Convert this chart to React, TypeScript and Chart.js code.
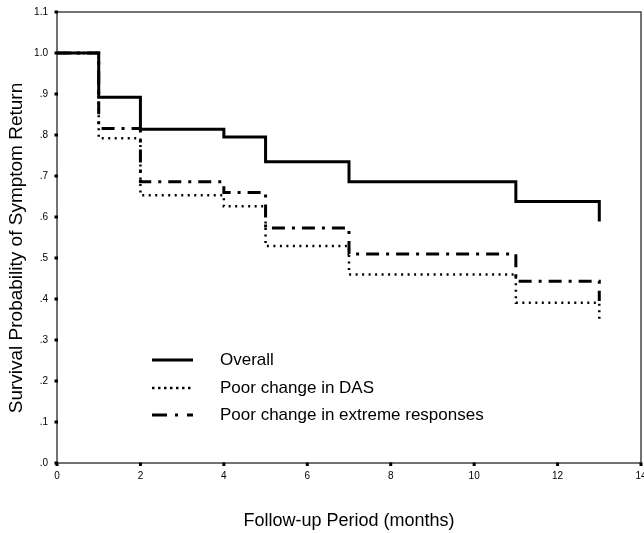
import React, { useEffect, useRef } from "react";
import { Chart, registerables } from "chart.js";

Chart.register(...registerables);

const months = [0, 1, 2, 4, 5, 7, 11, 13];
const overall = [1.0, 0.892, 0.814, 0.795, 0.735, 0.686, 0.638, 0.589];
const poorDAS = [1.0, 0.792, 0.653, 0.626, 0.529, 0.46, 0.391, 0.342];
const poorExtreme = [1.0, 0.816, 0.686, 0.66, 0.573, 0.51, 0.443, 0.395];

const seriesLabels = ["Overall", "Poor change in DAS", "Poor change in extreme responses"];
const yTickLabels = [".0", ".1", ".2", ".3", ".4", ".5", ".6", ".7", ".8", ".9", "1.0", "1.1"];
const xTickLabels = ["0", "2", "4", "6", "8", "10", "12", "14"];
const xTitle = "Follow-up Period (months)";
const yTitle = "Survival Probability of Symptom Return";

const FONT = "'Liberation Sans', Arial, Helvetica, sans-serif";

const styles = [
  { width: 3, dash: [] as number[], legendDash: [] as number[] },
  { width: 2.5, dash: [2, 4.5], legendDash: [2.5, 3.5] },
  { width: 3, dash: [13, 7, 3, 7], legendDash: [15, 8, 3, 9] },
];

const toPoints = (ys: number[]) => months.map((m, i) => ({ x: m, y: ys[i] }));

const decorPlugin = {
  id: "decor",
  afterDraw(chart: any) {
    const { ctx, chartArea, scales } = chart;
    const xs = scales.x;
    const ys = scales.y;
    ctx.save();
    // frame
    ctx.strokeStyle = "#444";
    ctx.lineWidth = 1.5;
    ctx.setLineDash([]);
    ctx.strokeRect(chartArea.left, chartArea.top, chartArea.right - chartArea.left, chartArea.bottom - chartArea.top);
    // tick squares
    ctx.fillStyle = "#000";
    ys.ticks.forEach((t: any) => {
      const py = ys.getPixelForValue(t.value);
      ctx.fillRect(chartArea.left - 2.5, py - 1.5, 3.5, 3);
    });
    xs.ticks.forEach((t: any) => {
      const px = xs.getPixelForValue(t.value);
      ctx.fillRect(px - 1.5, chartArea.bottom - 0.5, 3, 3.5);
    });
    // axis titles
    ctx.fillStyle = "#000";
    ctx.textAlign = "center";
    ctx.textBaseline = "middle";
    ctx.font = `18px ${FONT}`;
    ctx.fillText(xTitle, (chartArea.left + chartArea.right) / 2, 521);
    ctx.save();
    ctx.font = `19px ${FONT}`;
    ctx.translate(17, 248);
    ctx.rotate(-Math.PI / 2);
    ctx.fillText(yTitle, 0, 0);
    ctx.restore();
    // legend
    const legendY = [360, 388, 415];
    ctx.font = `17px ${FONT}`;
    ctx.textAlign = "left";
    seriesLabels.forEach((lab, i) => {
      const y = legendY[i];
      ctx.strokeStyle = "#000";
      ctx.lineWidth = styles[i].width;
      ctx.lineCap = "butt";
      ctx.setLineDash(styles[i].legendDash);
      ctx.beginPath();
      ctx.moveTo(152, y);
      ctx.lineTo(193, y);
      ctx.stroke();
      ctx.setLineDash([]);
      ctx.fillText(lab, 220, y);
    });
    ctx.restore();
  },
};

export default function App() {
  const ref = useRef<HTMLCanvasElement | null>(null);
  useEffect(() => {
    if (!ref.current) return;
    const chart = new Chart(ref.current, {
      type: "line",
      data: {
        datasets: [overall, poorDAS, poorExtreme].map((ys, i) => ({
          label: seriesLabels[i],
          data: toPoints(ys),
          borderColor: "#000",
          borderWidth: styles[i].width,
          borderDash: styles[i].dash,
          borderCapStyle: "butt" as const,
          borderJoinStyle: "miter" as const,
          stepped: true,
          pointRadius: 0,
          fill: false,
        })),
      },
      options: {
        animation: false,
        responsive: false,
        maintainAspectRatio: false,
        layout: { padding: { top: 12, right: 3, left: 0, bottom: 0 } },
        plugins: { legend: { display: false }, tooltip: { enabled: false } },
        scales: {
          x: {
            type: "linear",
            min: 0,
            max: 14,
            ticks: {
              stepSize: 2,
              color: "#000",
              font: { family: FONT, size: 10 },
              padding: 7,
              maxRotation: 0,
              autoSkip: false,
              callback: (_v: any, i: number) => xTickLabels[i],
            },
            grid: { display: false, drawTicks: false },
            border: { display: false },
            afterFit: (s: any) => {
              s.height = 70;
              s.paddingLeft = 0;
              s.paddingRight = 0;
            },
          },
          y: {
            type: "linear",
            min: 0,
            max: 1.1,
            ticks: {
              stepSize: 0.1,
              color: "#000",
              font: { family: FONT, size: 10 },
              padding: 9,
              autoSkip: false,
              callback: (_v: any, i: number) => yTickLabels[i],
            },
            grid: { display: false, drawTicks: false },
            border: { display: false },
            afterFit: (s: any) => {
              s.width = 57;
              s.paddingTop = 0;
              s.paddingBottom = 0;
            },
          },
        },
      },
      plugins: [decorPlugin],
    });
    return () => chart.destroy();
  }, []);
  return (
    <canvas
      ref={ref}
      width={644}
      height={533}
      style={{ position: "absolute", left: 0, top: 0, width: 644, height: 533, background: "#fff" }}
    />
  );
}
